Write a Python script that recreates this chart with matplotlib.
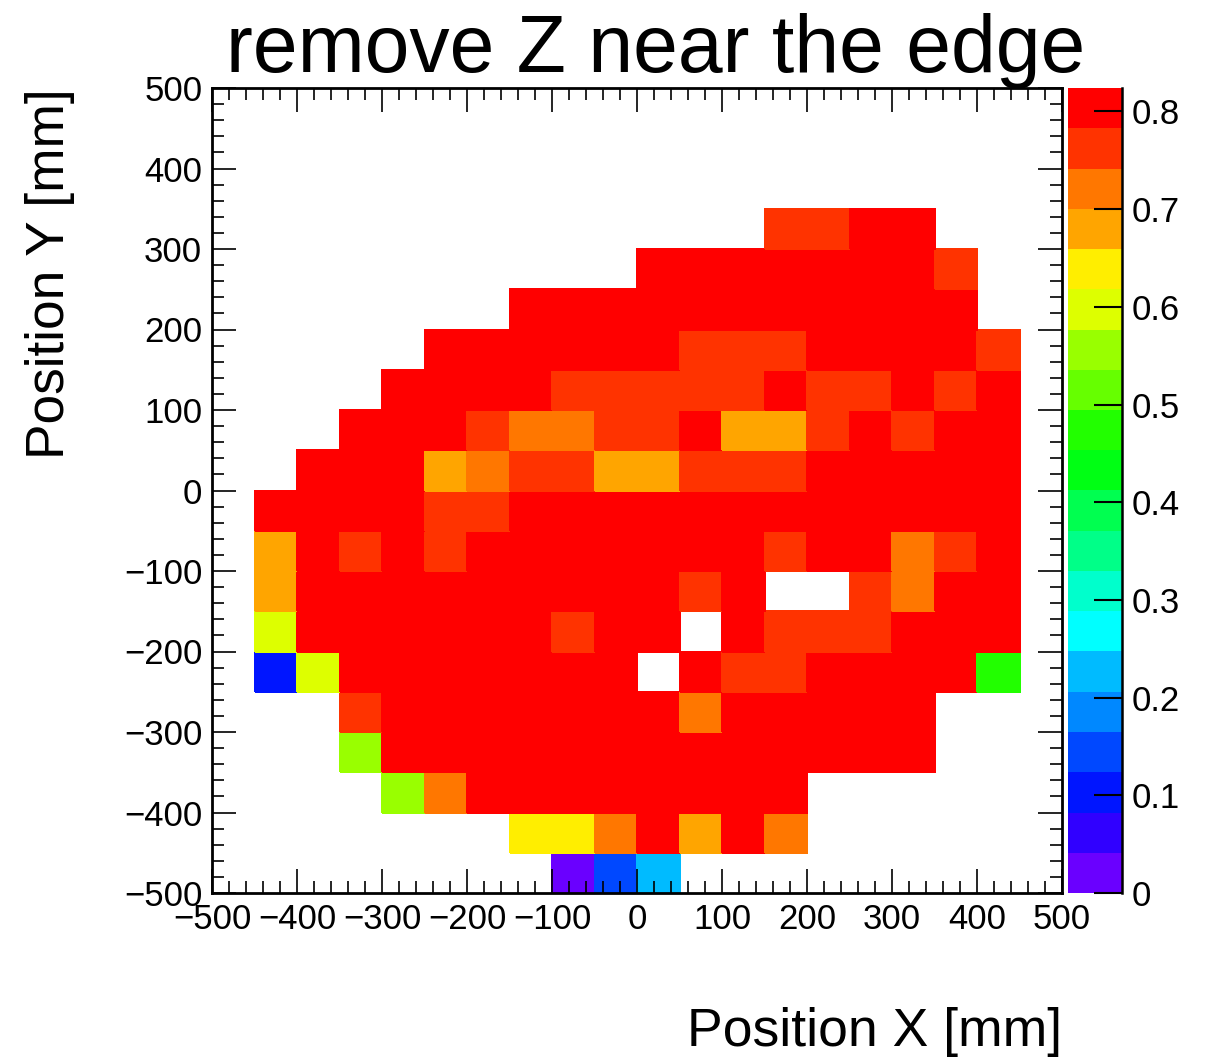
import numpy as np
import matplotlib
matplotlib.use("Agg")
import matplotlib.pyplot as plt
from matplotlib.colors import ListedColormap, BoundaryNorm
from matplotlib.ticker import MultipleLocator, FixedLocator, FuncFormatter

plt.rcParams['font.family'] = ['Liberation Sans', 'DejaVu Sans']

n = np.nan
# x / y bin edges (mm)
x_edges = np.arange(-500, 501, 50)
y_edges = np.arange(-500, 501, 50)

# rows listed from top (y = 450..500) to bottom (y = -500..-450); columns x = -500..500
rows_top_to_bottom = [
    [n]*20,
    [n]*20,
    [n]*20,
    [n,n,n,n,n,n,n,n,n,n,n,n,n,.76,.76,.80,.80,n,n,n],
    [n,n,n,n,n,n,n,n,n,n,.80,.80,.80,.80,.80,.80,.80,.76,n,n],
    [n,n,n,n,n,n,n,.80,.80,.80,.80,.80,.80,.80,.80,.80,.80,.80,n,n],
    [n,n,n,n,n,.80,.80,.80,.80,.80,.80,.76,.76,.76,.80,.80,.80,.80,.76,n],
    [n,n,n,n,.80,.80,.80,.80,.76,.76,.76,.76,.76,.80,.76,.76,.80,.76,.80,n],
    [n,n,n,.80,.80,.80,.76,.72,.72,.76,.76,.80,.68,.68,.76,.80,.76,.80,.80,n],
    [n,n,.80,.80,.80,.68,.72,.76,.76,.68,.68,.76,.76,.76,.80,.80,.80,.80,.80,n],
    [n,.80,.80,.80,.80,.76,.76,.80,.80,.80,.80,.80,.80,.80,.80,.80,.80,.80,.80,n],
    [n,.68,.80,.76,.80,.76,.80,.80,.80,.80,.80,.80,.80,.76,.80,.80,.72,.76,.80,n],
    [n,.68,.80,.80,.80,.80,.80,.80,.80,.80,.80,.76,.80,n,n,.76,.72,.80,.80,n],
    [n,.60,.80,.80,.80,.80,.80,.80,.76,.80,.80,n,.80,.76,.76,.76,.80,.80,.80,n],
    [n,.10,.60,.80,.80,.80,.80,.80,.80,.80,n,.80,.76,.76,.80,.80,.80,.80,.47,n],
    [n,n,n,.76,.80,.80,.80,.80,.80,.80,.80,.72,.80,.80,.80,.80,.80,n,n,n],
    [n,n,n,.56,.80,.80,.80,.80,.80,.80,.80,.80,.80,.80,.80,.80,.80,n,n,n],
    [n,n,n,n,.56,.72,.80,.80,.80,.80,.80,.80,.80,.80,n,n,n,n,n,n],
    [n,n,n,n,n,n,n,.64,.64,.72,.80,.68,.80,.72,n,n,n,n,n,n],
    [n,n,n,n,n,n,n,n,.02,.14,.23,n,n,n,n,n,n,n,n,n],
]
z_max = 0.824
n_levels = 20
cbar_ticks = [0, 0.1, 0.2, 0.3, 0.4, 0.5, 0.6, 0.7, 0.8]

palette = ['#6a00ff', '#3000ff', '#0015ff', '#0048ff', '#0088ff', '#00bbff',
           '#00ffff', '#00ffcc', '#00ff88', '#00ff50', '#00ff14', '#22ff00',
           '#66ff00', '#99ff00', '#ddff00', '#ffee00', '#ffa500', '#ff7700',
           '#ff3300', '#ff0000']

Z = np.array(rows_top_to_bottom)[::-1]
Z = np.ma.masked_invalid(Z)

W, H = 1211, 1060
fig = plt.figure(figsize=(W/100, H/100), dpi=100)
L, R, B, T = 212, 1062, 893, 88
ax = fig.add_axes([L/W, 1 - B/H, (R-L)/W, (B-T)/H])
cax = fig.add_axes([1068/W, 1 - B/H, (1122-1068)/W, (B-T)/H])

cmap = ListedColormap(palette)
levels = np.linspace(0, z_max, n_levels + 1)
norm = BoundaryNorm(levels, cmap.N)
mesh = ax.pcolormesh(x_edges, y_edges, Z, cmap=cmap, norm=norm,
                     edgecolors='face', linewidth=0.3)

ax.set_xlim(-500, 500)
ax.set_ylim(-500, 500)
for s in ax.spines.values():
    s.set_linewidth(2)
ax.xaxis.set_major_locator(MultipleLocator(100))
ax.xaxis.set_minor_locator(MultipleLocator(20))
ax.yaxis.set_major_locator(MultipleLocator(100))
ax.yaxis.set_minor_locator(MultipleLocator(20))
ax.tick_params(which='both', direction='in', top=True, right=True,
               labelsize=25, width=1.2)
ax.tick_params(which='major', length=17)
ax.tick_params(which='minor', length=8.5)
ax.tick_params(axis='x', which='major', pad=7)
ax.tick_params(axis='y', which='major', pad=7)
fmt = FuncFormatter(lambda v, p: ('\u2212' if v < 0 else '') + '%d' % abs(v))
ax.xaxis.set_major_formatter(fmt)
ax.yaxis.set_major_formatter(fmt)

cb = fig.colorbar(mesh, cax=cax, ticks=cbar_ticks)
cb.outline.set_visible(False)
cax.yaxis.set_major_locator(FixedLocator(cbar_ticks))
cax.yaxis.set_major_formatter(FuncFormatter(lambda v, p: '%g' % v))
cax.yaxis.set_minor_locator(FixedLocator([]))
cax.tick_params(which='major', direction='in', length=20, width=1.5,
                labelsize=25, pad=7)
cax.plot([1, 1], [0, 1], transform=cax.transAxes, color='black', lw=1.8,
         clip_on=False)

fig.text(656/W, 1 - 72/H, 'remove Z near the edge', fontsize=58,
         ha='center', va='baseline')
fig.text(1062/W, 1 - 1046/H, 'Position X [mm]', fontsize=38.5,
         ha='right', va='baseline')
fig.text(50/W, 1 - T/H, 'Position Y [mm]', fontsize=38.3, rotation=90,
         ha='center', va='top')

fig.savefig('out.png', dpi=100)
